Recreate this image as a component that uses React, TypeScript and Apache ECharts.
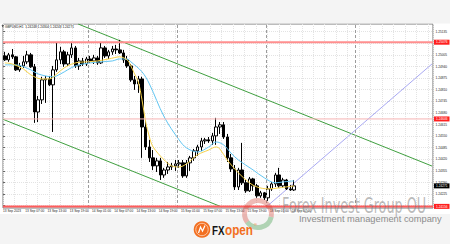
import React, { useEffect, useRef } from "react";
import * as echarts from "echarts";

// ---------- data ----------
const timeLabels = [
  "13 Sep 2023", "13 Sep 07:00", "13 Sep 13:00", "13 Sep 19:00",
  "14 Sep 01:00", "14 Sep 07:00", "14 Sep 13:00", "14 Sep 19:00",
  "15 Sep 01:00", "15 Sep 07:00", "15 Sep 13:00", "15 Sep 19:00",
  "18 Sep 01:00", "18 Sep 07:00",
];
const labelStep = 6; // bars between time labels
const shiftBars = 37; // empty future area right of the last bar

const opens = [
  1.24999, 1.24977, 1.25005, 1.24994, 1.24921, 1.24943, 1.24966, 1.25005, 1.24938, 1.24685,
  1.24753, 1.24865, 1.24870, 1.24837, 1.24921, 1.24977, 1.25022, 1.24954, 1.25005, 1.25044,
  1.24943, 1.24971, 1.24954, 1.24982, 1.24971, 1.24988, 1.24960, 1.25044, 1.24999, 1.25022,
  1.25038, 1.25033, 1.25016, 1.24977, 1.24943, 1.24865, 1.24842, 1.24870, 1.24601, 1.24489,
  1.24428, 1.24383, 1.24411, 1.24332, 1.24360, 1.24377, 1.24383, 1.24394, 1.24400, 1.24327,
  1.24400, 1.24428, 1.24467, 1.24489, 1.24523, 1.24529, 1.24523, 1.24551, 1.24601, 1.24613,
  1.24545, 1.24428, 1.24366, 1.24265, 1.24360, 1.24288, 1.24243, 1.24310, 1.24271, 1.24215,
  1.24232, 1.24204, 1.24254, 1.24282, 1.24332, 1.24271, 1.24304, 1.24254, 1.24248,
];
const closes = [
  1.24977, 1.25005, 1.24994, 1.24921, 1.24943, 1.24966, 1.25005, 1.24938, 1.24685, 1.24753,
  1.24865, 1.24870, 1.24837, 1.24921, 1.24977, 1.25022, 1.24954, 1.25005, 1.25044, 1.24943,
  1.24971, 1.24954, 1.24982, 1.24971, 1.24988, 1.24960, 1.25044, 1.24999, 1.25022, 1.25038,
  1.25033, 1.25016, 1.24977, 1.24943, 1.24865, 1.24842, 1.24870, 1.24601, 1.24489, 1.24428,
  1.24383, 1.24411, 1.24332, 1.24360, 1.24377, 1.24383, 1.24394, 1.24400, 1.24327, 1.24400,
  1.24428, 1.24467, 1.24489, 1.24523, 1.24529, 1.24523, 1.24551, 1.24601, 1.24613, 1.24545,
  1.24428, 1.24366, 1.24265, 1.24360, 1.24288, 1.24243, 1.24310, 1.24271, 1.24215, 1.24232,
  1.24204, 1.24254, 1.24282, 1.24332, 1.24271, 1.24304, 1.24254, 1.24248, 1.24271,
];
const lows = [
  1.24971, 1.24966, 1.24982, 1.24915, 1.24910, 1.24932, 1.24954, 1.24932, 1.24624, 1.24629,
  1.24730, 1.24736, 1.24831, 1.24573, 1.24910, 1.24954, 1.24938, 1.24943, 1.24988, 1.24932,
  1.24921, 1.24943, 1.24943, 1.24960, 1.24954, 1.24949, 1.24954, 1.24988, 1.24982, 1.25005,
  1.25010, 1.25010, 1.24960, 1.24932, 1.24854, 1.24809, 1.24792, 1.24428, 1.24472, 1.24405,
  1.24360, 1.24349, 1.24304, 1.24316, 1.24338, 1.24360, 1.24355, 1.24372, 1.24316, 1.24316,
  1.24355, 1.24411, 1.24439, 1.24467, 1.24506, 1.24512, 1.24501, 1.24501, 1.24562, 1.24534,
  1.24405, 1.24349, 1.24248, 1.24248, 1.24276, 1.24232, 1.24237, 1.24243, 1.24204, 1.24204,
  1.24192, 1.24187, 1.24243, 1.24265, 1.24260, 1.24260, 1.24248, 1.24243, 1.24243,
];
const highs = [
  1.25022, 1.25016, 1.25038, 1.24999, 1.24960, 1.24999, 1.25027, 1.25016, 1.24954, 1.24775,
  1.24882, 1.24887, 1.24887, 1.24943, 1.25072, 1.25050, 1.25033, 1.25022, 1.25078, 1.25055,
  1.24988, 1.24988, 1.24994, 1.24999, 1.25005, 1.24999, 1.25072, 1.25055, 1.25033, 1.25055,
  1.25061, 1.25089, 1.25033, 1.24999, 1.24954, 1.24887, 1.24887, 1.24882, 1.24641, 1.24529,
  1.24472, 1.24428, 1.24428, 1.24372, 1.24405, 1.24400, 1.24416, 1.24416, 1.24416, 1.24416,
  1.24439, 1.24478, 1.24501, 1.24540, 1.24540, 1.24545, 1.24568, 1.24652, 1.24629, 1.24629,
  1.24562, 1.24450, 1.24388, 1.24372, 1.24512, 1.24304, 1.24321, 1.24316, 1.24282, 1.24243,
  1.24237, 1.24271, 1.24293, 1.24344, 1.24372, 1.24316, 1.24310, 1.24276, 1.24304,
];

// moving averages at some bars
const maFastBars = [0, 2, 5, 7, 10, 12, 14, 16, 19, 22, 25, 28, 31, 33, 34, 35, 36, 37, 38, 39, 40, 43, 45, 47, 49, 52, 55, 57, 58, 60, 63, 66, 68, 71, 74, 78];
const maFastValues = [
  1.24960, 1.24954, 1.24926, 1.24893, 1.24870, 1.24870, 1.24898, 1.24932, 1.24960, 1.24966,
  1.24971, 1.24982, 1.24994, 1.24977, 1.24943, 1.24898, 1.24854, 1.24753, 1.24629, 1.24545,
  1.24489, 1.24416, 1.24383, 1.24377, 1.24394, 1.24445, 1.24472, 1.24489, 1.24478, 1.24416,
  1.24344, 1.24288, 1.24265, 1.24254, 1.24260, 1.24271,
];
const maSlowBars = [0, 3, 7, 9, 13, 15, 19, 23, 26, 29, 31, 33, 34, 37, 39, 43, 47, 49, 52, 55, 57, 59, 61, 63, 67, 70, 73, 75, 78];
const maSlowValues = [
  1.24949, 1.24949, 1.24921, 1.24898, 1.24882, 1.24898, 1.24943, 1.24960, 1.24966, 1.24971,
  1.24982, 1.24982, 1.24966, 1.24910, 1.24842, 1.24657, 1.24529, 1.24484, 1.24461, 1.24489,
  1.24517, 1.24501, 1.24455, 1.24416, 1.24360, 1.24316, 1.24288, 1.24293, 1.24299,
];

const priceTicks = [
  1.25135, 1.25070, 1.25005, 1.24940, 1.24875, 1.24810, 1.24745, 1.24680,
  1.24615, 1.24550, 1.24485, 1.24420, 1.24355, 1.24290, 1.24225, 1.24160,
];
const priceMin = 1.24147;
const priceMax = 1.25178;

const levelTop = 1.25076;
const levelMid = 1.24646;
const levelBottom = 1.24156;
const lastPrice = 1.24271;

// trend lines: [bar position, price]
const channelUpper = [[20.27, 1.25178], [115.73, 1.24382]];
const channelLower = [[0, 1.24644], [59.0, 1.24153]];
const projection = [[71.2, 1.24156], [115.73, 1.24954]];
const daySeparators = [23, 47, 71, 95];

const symbolTitle = "GBPUSD,H1";

// ---------- chart ----------
const FONT = "Liberation Sans";
const TINY = 3.2;

function buildOption() {
  const slotCount = opens.length + shiftBars;
  const categories = Array.from({ length: slotCount }, (_, i) => String(i));
  const candles = opens.map((o, i) => [o, closes[i], lows[i], highs[i]]);
  const last = opens.length - 1;
  const titleText = `${symbolTitle}  ${opens[last].toFixed(5)} ${highs[last].toFixed(5)} ${lows[last].toFixed(5)} ${closes[last].toFixed(5)}`;

  const levelSeries = (name: string, value: number, color: string, width: number, tagBg: string, visible = true) => ({
    name,
    type: "line",
    xAxisIndex: 1,
    yAxisIndex: 0,
    data: [[0, value], [slotCount, value]],
    symbol: "none",
    silent: true,
    clip: false,
    z: 5,
    lineStyle: { color, width, opacity: visible ? 1 : 0 },
    endLabel: {
      show: true,
      distance: 1,
      formatter: () => value.toFixed(5),
      backgroundColor: tagBg,
      color: "#ffffff",
      fontSize: TINY,
      fontFamily: FONT,
      padding: [1, 2, 1, 2],
    },
  });

  return {
    animation: false,
    backgroundColor: "#ffffff",
    grid: {
      left: 1,
      top: 24,
      width: 435,
      height: 184,
      show: true,
      borderColor: "#7a7a7a",
      borderWidth: 1,
      backgroundColor: "transparent",
    },
    xAxis: [
      {
        type: "category",
        data: categories,
        boundaryGap: true,
        show: false,
      },
      {
        type: "value",
        min: 0,
        max: slotCount,
        interval: labelStep,
        position: "bottom",
        axisLine: { show: false },
        axisTick: { show: false },
        splitLine: { show: false },
        axisLabel: {
          show: true,
          margin: 1.5,
          align: "left",
          fontSize: TINY,
          fontFamily: FONT,
          color: "#222",
          showMaxLabel: false,
          formatter: (v: number) => {
            const k = Math.round(v / labelStep);
            return Math.abs(v - k * labelStep) < 1e-6 && k >= 0 && k < timeLabels.length ? timeLabels[k] : "";
          },
        },
      },
      {
        type: "value",
        min: 0,
        max: slotCount,
        interval: 3.1,
        axisLine: { show: false },
        axisTick: { show: false },
        axisLabel: { show: false },
        splitLine: { show: true, lineStyle: { color: "#e3e3e3", width: 1, type: [1, 1] } },
      },
    ],
    yAxis: {
      type: "value",
      position: "right",
      min: priceMin,
      max: priceMax,
      axisLine: { show: false },
      axisTick: { show: true, length: 2, customValues: priceTicks, lineStyle: { color: "#666" } },
      axisLabel: {
        show: true,
        customValues: priceTicks,
        formatter: (v: number) => v.toFixed(5),
        fontSize: TINY,
        fontFamily: FONT,
        color: "#222",
        margin: 2.5,
      },
      splitLine: { show: true, lineStyle: { color: "#e3e3e3", width: 1, type: [1, 1] } },
    },
    series: [
      {
        name: "separators",
        type: "line",
        xAxisIndex: 1,
        yAxisIndex: 0,
        data: [],
        silent: true,
        z: 1,
        markLine: {
          silent: true,
          symbol: "none",
          label: { show: false },
          lineStyle: { color: "#9c9c9c", width: 1, type: [3, 2] },
          data: daySeparators.map((v) => ({ xAxis: v })),
        },
      },
      levelSeries("level top", levelTop, "#ff8f8f", 2, "#ff1f1f"),
      levelSeries("level mid", levelMid, "#f6b3b3", 1, "#ff1f1f"),
      levelSeries("level bottom", levelBottom, "#ff5c5c", 2, "#ff1f1f"),
      levelSeries("last price", lastPrice, "#000000", 1, "#000000", false),
      {
        name: "channel upper",
        type: "line",
        xAxisIndex: 1,
        yAxisIndex: 0,
        data: channelUpper,
        symbol: "none",
        silent: true,
        z: 2,
        lineStyle: { color: "#3f9f3f", width: 1 },
      },
      {
        name: "channel lower",
        type: "line",
        xAxisIndex: 1,
        yAxisIndex: 0,
        data: channelLower,
        symbol: "none",
        silent: true,
        z: 2,
        lineStyle: { color: "#3f9f3f", width: 1 },
      },
      {
        name: "projection",
        type: "line",
        xAxisIndex: 1,
        yAxisIndex: 0,
        data: projection,
        symbol: "none",
        silent: true,
        z: 2,
        lineStyle: { color: "#a9a9f2", width: 1 },
      },
      {
        name: symbolTitle,
        type: "candlestick",
        xAxisIndex: 0,
        yAxisIndex: 0,
        data: candles,
        barWidth: 3,
        z: 3,
        itemStyle: {
          color: "#ffffff",
          color0: "#000000",
          borderColor: "#000000",
          borderColor0: "#000000",
          borderWidth: 1,
        },
      },
      {
        name: "MA slow",
        type: "line",
        xAxisIndex: 1,
        yAxisIndex: 0,
        data: maSlowBars.map((b, i) => [b + 0.5, maSlowValues[i]]),
        symbol: "none",
        smooth: 0.35,
        silent: true,
        z: 4,
        lineStyle: { color: "#62c6f2", width: 1 },
      },
      {
        name: "MA fast",
        type: "line",
        xAxisIndex: 1,
        yAxisIndex: 0,
        data: maFastBars.map((b, i) => [b + 0.5, maFastValues[i]]),
        symbol: "none",
        smooth: 0.35,
        silent: true,
        z: 4,
        lineStyle: { color: "#f6d24a", width: 1 },
      },
    ],
    graphic: [
      { type: "rect", shape: { x: 0, y: 0, width: 450, height: 23.5 }, style: { fill: "#f4f4f4" }, z: 0, silent: true },
      { type: "rect", shape: { x: 0, y: 214, width: 450, height: 30 }, style: { fill: "#f4f4f4" }, z: 0, silent: true },
      {
        type: "polygon",
        shape: { points: [[1.5, 25.3], [4, 25.3], [2.75, 27.3]] },
        style: { fill: "#333" },
        z: 20,
        silent: true,
      },
      {
        type: "text",
        x: 5,
        y: 26.3,
        style: { text: titleText, fontSize: TINY, fontFamily: FONT, fill: "#111", align: "left", verticalAlign: "middle" },
        z: 20,
        silent: true,
      },
      // circular watermark logo
      {
        type: "sector",
        shape: { cx: 258, cy: 214, r: 16, r0: 11, startAngle: 2.5, endAngle: 6.5, clockwise: true },
        style: { fill: "rgba(210,60,45,0.35)" },
        z: 30,
        silent: true,
      },
      {
        type: "sector",
        shape: { cx: 258, cy: 214, r: 16, r0: 11, startAngle: 0.22, endAngle: 2.5, clockwise: true },
        style: { fill: "rgba(50,150,60,0.35)" },
        z: 30,
        silent: true,
      },
      {
        type: "text",
        x: 282,
        y: 205,
        scaleX: 0.58,
        style: {
          text: "Forex Invest Group OU",
          fontSize: 22,
          fontFamily: "DejaVu Sans",
          fill: "rgba(120,120,120,0.5)",
          align: "left",
          verticalAlign: "middle",
        },
        z: 30,
        silent: true,
      },
      {
        type: "text",
        x: 299,
        y: 218.5,
        style: {
          text: "Investment management company",
          fontSize: 9.3,
          fontFamily: FONT,
          fill: "#8c8c8c",
          align: "left",
          verticalAlign: "middle",
        },
        z: 30,
        silent: true,
      },
      // FXOpen logo
      { type: "circle", shape: { cx: 202, cy: 229.5, r: 8.3 }, style: { fill: "#f26f21" }, z: 30, silent: true },
      { type: "circle", shape: { cx: 202, cy: 229.5, r: 6.2 }, style: { fill: "none", stroke: "#ffd9bf", lineWidth: 0.8 }, z: 31, silent: true },
      {
        type: "polyline",
        shape: { points: [[198.5, 233], [200.5, 227], [202.5, 231], [205, 225.5]] },
        style: { stroke: "#ffffff", lineWidth: 1.2, fill: "none" },
        z: 31,
        silent: true,
      },
      {
        type: "text",
        x: 212,
        y: 230.5,
        scaleX: 0.75,
        style: { text: "FX", fontSize: 13, fontWeight: "bold", fontFamily: FONT, fill: "#141414", align: "left", verticalAlign: "middle" },
        z: 30,
        silent: true,
      },
      {
        type: "text",
        x: 225,
        y: 229.5,
        scaleX: 0.78,
        style: { text: "open", fontSize: 15, fontWeight: "bold", fontFamily: FONT, fill: "#f26f21", align: "left", verticalAlign: "middle" },
        z: 30,
        silent: true,
      },
      {
        type: "text",
        x: 254,
        y: 224.5,
        style: { text: "®", fontSize: 4, fontFamily: FONT, fill: "#f26f21", align: "left", verticalAlign: "middle" },
        z: 30,
        silent: true,
      },
    ],
  };
}

export default function App() {
  const ref = useRef<HTMLDivElement>(null);
  useEffect(() => {
    if (!ref.current) return;
    const chart = echarts.init(ref.current, undefined, { renderer: "svg" });
    chart.setOption(buildOption() as any);
    return () => chart.dispose();
  }, []);
  return (
    <div
      ref={ref}
      style={{ position: "fixed", left: 0, top: 0, width: 450, height: 244, background: "#ffffff" }}
    />
  );
}
